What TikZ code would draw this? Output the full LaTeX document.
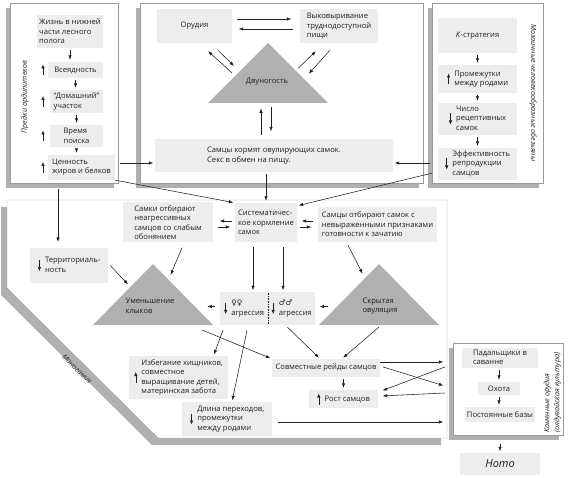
\documentclass[tikz,border=0pt]{standalone}
\usepackage{fontspec}
\setmainfont{Open Sans}
\newfontfamily\symfont{DejaVu Sans}
\usepackage{tikz}
\usetikzlibrary{arrows.meta, calc, shadows}
\definecolor{cellgray}{HTML}{EDEDED}
\definecolor{trigray}{HTML}{B0B0B0}
\definecolor{framegray}{HTML}{9A9A9A}
\definecolor{shadegray}{HTML}{B0B0B0}
\definecolor{inkgray}{HTML}{231F20}
\newcommand{\cellfont}{\fontsize{7.6}{9.4}\selectfont}
\newcommand{\txtblock}[1]{\begin{tabular}{@{}l@{}}#1\end{tabular}}
\newcommand{\upmark}{\tikz[baseline=-2pt]\draw[sign_arrow] (0pt,-5.5pt) -- (0pt,5.5pt);\hspace{4pt}}
\newcommand{\dnmark}{\tikz[baseline=-2pt]\draw[sign_arrow] (0pt,5.5pt) -- (0pt,-5.5pt);\hspace{4pt}}
\tikzset{
  frame_box/.style={draw=framegray, fill=white, inner sep=0pt, drop shadow={shadow xshift=-4pt, shadow yshift=-5pt, fill=shadegray, opacity=1}},
  cell_box/.style={fill=cellgray, inner sep=0pt, align=left, font=\cellfont, text=inkgray},
  tri_fill/.style={fill=trigray},
  tri_label/.style={align=left, font=\cellfont, text=inkgray, inner sep=0pt},
  side_label/.style={font=\fontsize{7.2}{10}\selectfont\itshape, text=inkgray, inner sep=0pt},
  arrow/.style={-{Latex[length=4.5pt,width=3.4pt]}, line width=0.55pt, color=inkgray, shorten >=1.5pt},
  link/.style={arrow, shorten <=2pt, shorten >=2pt},
  sign_arrow/.style={-{Latex[length=4pt,width=3.4pt]}, line width=0.55pt, color=inkgray}
}

\begin{document}
\begin{tikzpicture}[x=1pt, y=-1pt]
  \useasboundingbox (0,0) rectangle (570,478);

  % frames
  \node[frame_box, minimum width=108pt, minimum height=180pt] (ardi_box) at (64,93) {};
  \node[frame_box, minimum width=283pt, minimum height=180pt] (tool_box) at (281.5,93) {};
  \node[frame_box, minimum width=111pt, minimum height=180pt] (ape_box) at (487.5,93) {};
  \fill[shadegray, shift={(-6,7)}] (7,200) -- (447,200) -- (447,438) -- (158,438) -- (7,288) -- cycle;
  \filldraw[draw=framegray, fill=white] (7,200) -- (447,200) -- (447,438) -- (158,438) -- (7,288) -- cycle;
  \node[frame_box, minimum width=110pt, minimum height=92pt] (stone_box) at (508,389) {};

  \node[side_label, rotate=90] (ardi_label) at (25,97) {Предки ардипитеков};
  \node[side_label, rotate=-90] (ape_label) at (533,93) {Мозаичные человекообразные обезьяны};
  \node[side_label, rotate=-45] (mono_label) at (77,369) {Моногамия};
  \node[side_label, rotate=90, anchor=west, align=left] (stone_label) at (552.5,433) {Каменные орудия\\(олдувайская культура)};

  % ancestors
  \node[cell_box, minimum width=66pt, minimum height=33pt] (forest) at (70,31.5) {Жизнь в нижней\\части лесного\\полога};
  \node[cell_box, minimum width=55pt, minimum height=16pt] (omni) at (75.5,70) {Всеядность};
  \node[cell_box, minimum width=53pt, minimum height=23pt] (home) at (76.5,101.5) {“Домашний”\\участок};
  \node[cell_box, minimum width=53pt, minimum height=22pt] (search) at (76.5,136) {Время\\поиска};
  \node[cell_box, minimum width=67pt, minimum height=25pt] (fat) at (81.5,167.5) {Ценность\\жиров и белков};
  \coordinate (ardi_marks) at (43,0);
  \foreach \n in {omni, home, search, fat}
    \draw[sign_arrow] (\n.west -| ardi_marks) ++(0pt,-5.5pt) -- ++(0pt,11pt);
  \draw[link] (forest.south) -- (forest.south |- omni.north);
  \draw[link] (omni.south) -- (omni.south |- home.north);
  \draw[link] (home.south) -- (home.south |- search.north);
  \draw[link] (search.south) -- (search.south |- fat.north);

  % bipedalism
  \node[cell_box, minimum width=75pt, minimum height=34pt] (tools) at (194.5,26) {Орудия};
  \node[cell_box, minimum width=78pt, minimum height=34pt] (dig) at (339,26) {Выковыривание\\труднодоступной\\пищи};
  \fill[tri_fill] (268,43) coordinate (bip_top) -- (328,103) coordinate (bip_right) -- (208,103) coordinate (bip_left) -- cycle;
  \node[tri_label] (bip) at (267,82) {Двуногость};
  \node[cell_box, minimum width=238pt, minimum height=33pt] (feed) at (274,155.5) {Самцы кормят овулирующих самок.\\Секс в обмен на пищу.};
  \draw[arrow] ([shift={(5pt,7pt)}]tools.east) -- ([shift={(-7pt,7pt)}]dig.west);
  \draw[arrow] ([shift={(-7pt,-3pt)}]dig.west) -- ([shift={(5pt,-3pt)}]tools.east);
  \draw[arrow] ($(bip_top)!0.5!(bip_left)+(-6,0)$) -- ([shift={(12.5pt,-7pt)}]tools.south);
  \draw[arrow] ([shift={(23.5pt,-7pt)}]tools.south) -- ($(bip_top)!0.4!(bip_left)+(-9,0)$);
  \draw[arrow] ($(bip_top)!0.42!(bip_right)+(5,0)$) -- ([shift={(-22pt,-7pt)}]dig.south);
  \draw[arrow] ([shift={(-9pt,-7pt)}]dig.south) -- ($(bip_top)!0.53!(bip_right)+(8,0)$);
  \draw[arrow] ([shift={(-13pt,4pt)}]feed.north) -- ([shift={(-13pt,32pt)}]feed.north);
  \draw[arrow] ([shift={(-3pt,32pt)}]feed.north) -- ([shift={(-3pt,6pt)}]feed.north);

  % apes
  \node[cell_box, minimum width=79pt, minimum height=35pt] (kstrat) at (477.5,35.5) {\textit{К}-стратегия};
  \node[cell_box, minimum width=79pt, minimum height=28pt] (births) at (477.5,79) {\upmark\txtblock{Промежутки\\между родами}};
  \node[cell_box, minimum width=79pt, minimum height=32pt] (recept) at (477.5,119) {\dnmark\txtblock{Число\\рецептивных\\самок}};
  \node[cell_box, minimum width=79pt, minimum height=32pt] (effect) at (477.5,164) {\dnmark\txtblock{Эффективность\\репродукции\\самцов}};
  \draw[link] (kstrat) -- (births);
  \draw[link] (births) -- (recept);
  \draw[link] (recept) -- (effect);

  \draw[arrow] ([shift={(-35pt,-7.5pt)}]feed.west) -- ([yshift=-7.5pt]feed.west);
  \draw[arrow] ([shift={(37pt,-7.5pt)}]feed.east) -- ([yshift=-7.5pt]feed.east);

  % monogamy
  \node[cell_box, minimum width=62pt, minimum height=39pt] (sys) at (266,222.5) {Систематичес-\\кое кормление\\самок};
  \node[cell_box, minimum width=90pt, minimum height=40pt] (fsel) at (168,222.5) {Самки отбирают\\неагрессивных\\самцов со слабым\\обонянием};
  \node[cell_box, minimum width=119pt, minimum height=35pt] (msel) at (377.5,224.5) {Самцы отбирают самок с\\невыраженными признаками\\готовности к зачатию};
  \node[cell_box, minimum width=78pt, minimum height=35pt] (terr) at (69,265.5) {\dnmark\txtblock{Территориаль-\\ность}};
  \fill[tri_fill] (153,264) coordinate (shrink_top) -- (213,325) coordinate (shrink_right) -- (93,325) coordinate (shrink_left) -- cycle;
  \node[tri_label] (shrink) at (150,306) {Уменьшение\\клыков};
  \fill[tri_fill] (379,264) coordinate (hide_top) -- (439,325) coordinate (hide_right) -- (319,325) coordinate (hide_left) -- cycle;
  \node[tri_label] (hide) at (380,306) {Скрытая\\овуляция};
  \node[cell_box, minimum width=48pt, minimum height=33pt] (agg_f) at (244,308.5) {\dnmark\txtblock{{\symfont ♀♀}\\агрессия}};
  \node[cell_box, minimum width=47pt, minimum height=33pt] (agg_m) at (291.5,308.5) {\dnmark\txtblock{{\symfont ♂♂}\\агрессия}};
  \draw[densely dotted, line width=0.6pt, inkgray, shorten <=1pt, shorten >=1pt] (agg_f.north east) -- (agg_f.south east);
  \node[cell_box, minimum width=99pt, minimum height=43pt] (avoid) at (178.5,377.5) {\upmark\txtblock{Избегание хищников,\\совместное\\выращивание детей,\\материнская забота}};
  \node[cell_box, minimum width=90pt, minimum height=34pt] (journey) at (227,419) {\dnmark\txtblock{Длина переходов,\\промежутки\\между родами}};
  \node[cell_box, minimum width=108pt, minimum height=18pt] (raids) at (326,368) {Совместные рейды самцов};
  \node[cell_box, minimum width=69pt, minimum height=18pt] (growth) at (343.5,399) {\upmark Рост самцов};

  \draw[link] (sys.north |- feed.south) -- (sys.north);
  \draw[arrow] ([shift={(-3pt,3pt)}]ardi_box.south east) -- (sys.north west);
  \draw[arrow] ([yshift=10pt]ape_box.south west) -- ([yshift=-3pt]sys.north east);
  \draw[arrow, shorten <=6pt, shorten >=6pt] ([xshift=-6pt]ardi_box.south) -- ([xshift=-6pt]ardi_box.south |- terr.north);
  \draw[arrow] ([shift={(-3pt,1.5pt)}]sys.west) -- ([shift={(5pt,1.5pt)}]fsel.east);
  \draw[arrow] ([shift={(5pt,-4.5pt)}]fsel.east) -- ([shift={(-3pt,-4.5pt)}]sys.west);
  \draw[arrow] ([shift={(-5pt,3.5pt)}]msel.west) -- ([shift={(3pt,1.5pt)}]sys.east);
  \draw[arrow] ([shift={(3pt,-4.5pt)}]sys.east) -- ([shift={(-5pt,-2.5pt)}]msel.west);
  \draw[arrow] ([xshift=2pt]terr.east) -- ($(shrink_top)!0.35!(shrink_left)+(-3,0)$);
  \draw[arrow] ([shift={(14pt,-5pt)}]fsel.south) -- ($(shrink_top)!0.2!(shrink_right)+(5,0)$);
  \draw[arrow, shorten <=5pt] ([xshift=-13pt]sys.south) -- ([xshift=-13pt]sys.south |- agg_f.north);
  \draw[arrow, shorten <=5pt] ([xshift=17pt]sys.south) -- ([xshift=17pt]sys.south |- agg_m.north);
  \draw[arrow] ([shift={(-29.5pt,-3pt)}]msel.south) -- ($(hide_top)!0.18!(hide_left)+(-5,0)$);
  \draw[arrow] ([shift={(-5pt,2pt)}]agg_f.west) -- ([shift={(-14pt,2pt)}]agg_f.west);
  \draw[arrow] ([shift={(13pt,2pt)}]agg_m.east) -- ([shift={(3pt,2pt)}]agg_m.east);
  \draw[arrow] ([shift={(-11,5)}]shrink_right) -- (raids.north west);
  \draw[arrow] ([shift={(-21pt,-5pt)}]agg_f.south) -- ([xshift=35pt]avoid.north);
  \draw[arrow] ([shift={(3pt,-5pt)}]agg_f.south) -- ([xshift=5pt]journey.north);
  \draw[arrow] ([shift={(-4pt,-2pt)}]agg_m.south) -- ([xshift=-6pt]raids.north);
  \draw[arrow] ($(hide_left)!0.5!(hide_right)+(0,2)$) -- ([xshift=16pt]raids.north);
  \draw[link] (raids.south -| growth.north) -- (growth.north);

  % stone tools
  \node[cell_box, minimum width=76pt, minimum height=20pt] (scav) at (500,357.5) {Падальщики в\\саванне};
  \node[cell_box, minimum width=42pt, minimum height=13pt] (hunt) at (499,388.5) {Охота};
  \node[cell_box, minimum width=70pt, minimum height=15pt] (camp) at (500,414.5) {Постоянные базы};
  \node[cell_box, minimum width=80pt, minimum height=22pt, font=\fontsize{11}{13}\selectfont\itshape] (homo) at (500,464) {Homo};
  \draw[link] (scav.south -| hunt.north) -- (hunt.north);
  \draw[link] (hunt.south) -- (hunt.south |- camp.north);
  \draw[arrow, shorten <=9pt] (homo.north |- stone_box.south) -- (homo.north);

  \draw[arrow] ([yshift=6pt]raids.east) -- ([shift={(-8pt,27pt)}]stone_box.west);
  \draw[arrow] ([shift={(3pt,1pt)}]raids.east) -- ([shift={(-8pt,3pt)}]stone_box.west);
  \draw[arrow] ([shift={(-8pt,22pt)}]stone_box.west) -- ([shift={(3pt,8pt)}]growth.east);
  \draw[arrow] ([shift={(-8pt,-4pt)}]stone_box.west) -- ([shift={(3pt,3pt)}]growth.east);
  \draw[arrow] ([shift={(6pt,-3pt)}]journey.east) -- ([shift={(-8pt,-33pt)}]stone_box.west);
\end{tikzpicture}
\end{document}
